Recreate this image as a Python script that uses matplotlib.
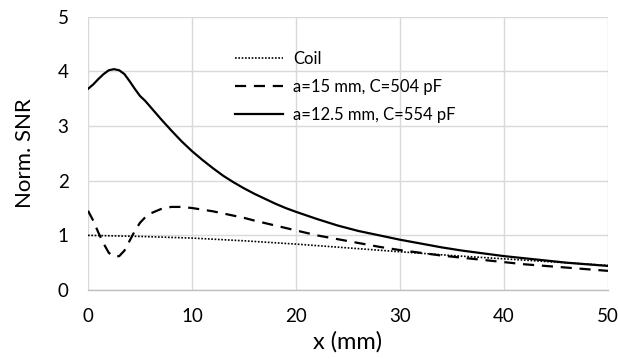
import matplotlib
matplotlib.use("Agg")
import matplotlib.pyplot as plt

plt.rcParams['font.family'] = ['Lato', 'DejaVu Sans']

# Coil reference
x_coil = [0, 5, 10, 15, 20, 25, 30, 35, 40, 45, 50]
snr_coil = [1.00, 0.98, 0.95, 0.90, 0.84, 0.77, 0.70, 0.63, 0.57, 0.51, 0.45]

# a = 15 mm, C = 504 pF
x_a15 = [0, 0.5, 1, 1.5, 2, 2.5, 3, 3.5, 4, 4.5, 5, 5.5, 6, 7, 8, 9, 10, 11, 12,
         13, 14, 15, 16, 18, 20, 22, 24, 26, 28, 30, 32, 34, 36, 38, 40, 42, 44,
         46, 48, 50]
snr_a15 = [1.45, 1.27, 1.05, 0.85, 0.68, 0.61, 0.62, 0.72, 0.90, 1.08, 1.23,
           1.33, 1.40, 1.48, 1.52, 1.52, 1.50, 1.47, 1.44, 1.40, 1.36, 1.32,
           1.27, 1.18, 1.09, 1.00, 0.93, 0.86, 0.79, 0.73, 0.68, 0.63, 0.59,
           0.55, 0.51, 0.47, 0.44, 0.41, 0.38, 0.35]

# a = 12.5 mm, C = 554 pF
x_a125 = [0, 0.5, 1, 1.5, 2, 2.5, 3, 3.5, 4, 4.5, 5, 5.5, 6, 7, 8, 9, 10, 11,
          12, 13, 14, 15, 16, 17, 18, 19, 20, 22, 24, 26, 28, 30, 32, 34, 36,
          38, 40, 42, 44, 46, 48, 50]
snr_a125 = [3.68, 3.76, 3.86, 3.95, 4.02, 4.04, 4.02, 3.95, 3.82, 3.68, 3.55,
            3.46, 3.35, 3.13, 2.92, 2.72, 2.54, 2.38, 2.23, 2.09, 1.97, 1.86,
            1.76, 1.67, 1.58, 1.50, 1.43, 1.30, 1.18, 1.08, 1.00, 0.92, 0.85,
            0.78, 0.72, 0.67, 0.62, 0.58, 0.54, 0.50, 0.47, 0.44]

labels = ["Coil", "a=15 mm, C=504 pF", "a=12.5 mm, C=554 pF"]
x_ticks = [0, 10, 20, 30, 40, 50]
y_ticks = [0, 1, 2, 3, 4, 5]

fig = plt.figure(figsize=(6.18, 3.59), dpi=100)
ax = fig.add_axes([0.1424, 0.1922, 0.8414, 0.7613])

ax.plot(x_coil, snr_coil, color='black', lw=1.2, linestyle=(0, (1, 1)), label=labels[0])
ax.plot(x_a15, snr_a15, color='black', lw=1.6, linestyle=(0, (5, 3.5)), label=labels[1])
ax.plot(x_a125, snr_a125, color='black', lw=1.6, linestyle='-', label=labels[2])

ax.set_xlim(0, 50)
ax.set_ylim(0, 5)
ax.set_xticks(x_ticks)
ax.set_yticks(y_ticks)
ax.grid(True, color='#d9d9d9', lw=1)
ax.set_axisbelow(True)
for side in ['top', 'right', 'left']:
    ax.spines[side].set_visible(False)
ax.spines['bottom'].set_color('#bfbfbf')
ax.spines['bottom'].set_linewidth(1)
ax.tick_params(length=0, labelsize=13.5, colors='black')
ax.tick_params(axis='x', pad=13)
ax.tick_params(axis='y', pad=14)

ax.set_xlabel("x (mm)", fontsize=17, labelpad=4)
ax.set_ylabel("Norm. SNR", fontsize=16, labelpad=16)

ax.legend(loc='upper left', bbox_to_anchor=(0.27, 0.9), frameon=False,
          fontsize=12, handlelength=2.9, handletextpad=0.6, labelspacing=0.72,
          borderaxespad=0)

fig.savefig("out.png", dpi=100)
